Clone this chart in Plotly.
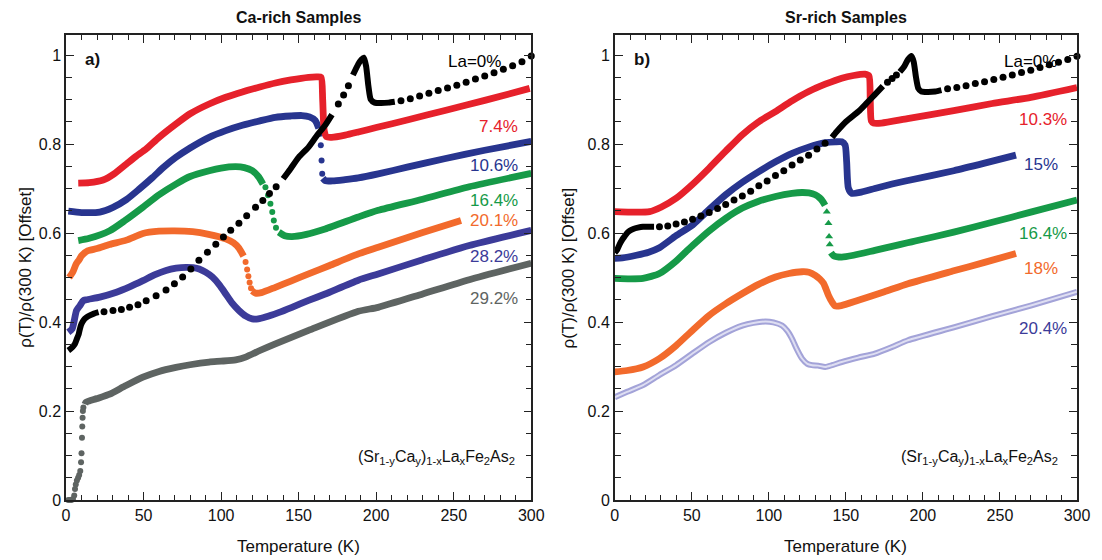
import plotly.graph_objects as go

# ---------------- Panel a: Ca-rich samples ----------------
# La = 0 %  (black)
a0_line1_T = [1.5, 3.0, 4.5, 5.8, 7.0, 8.2, 9.0, 10.0, 11.5, 13.0, 15.4, 18.0, 21.0]
a0_line1_R = [0.336, 0.340, 0.345, 0.351, 0.362, 0.373, 0.385, 0.396, 0.405, 0.410, 0.415, 0.419, 0.422]
a0_dots1_T = [24.5, 30.3, 35.7, 41.0, 46.4, 51.7, 58.1, 64.5, 69.9, 75.2, 80.5, 85.7, 91.2, 96.6,
              101.5, 106.2, 111.5, 116.5, 122.2, 126.9, 131.2, 135.5]
a0_dots1_R = [0.423, 0.426, 0.428, 0.433, 0.439, 0.448, 0.459, 0.472, 0.486, 0.501, 0.519, 0.539, 0.557, 0.575,
              0.591, 0.606, 0.622, 0.639, 0.658, 0.673, 0.689, 0.704]
a0_line2_T = [140.0, 144.7, 150.0, 156.4, 162.0, 167.1, 171.5]
a0_line2_R = [0.722, 0.744, 0.770, 0.793, 0.820, 0.842, 0.866]
a0_dots2_T = [175.6, 179.0, 182.1]
a0_dots2_R = [0.890, 0.910, 0.931]
a0_line3_T = [185.0, 188.5, 190.5, 192.0, 193.5, 195.0, 196.5, 199.0, 203.0, 208.0, 212.0]
a0_line3_R = [0.955, 0.980, 0.990, 0.994, 0.975, 0.930, 0.900, 0.893, 0.892, 0.893, 0.895]
a0_dots3_T = [216, 222, 228, 234, 240, 246, 252, 258, 264, 270, 276, 282, 288, 294, 300]
a0_dots3_R = [0.897, 0.902, 0.908, 0.914, 0.920, 0.926, 0.932, 0.939, 0.946, 0.953, 0.960, 0.968, 0.976, 0.985, 0.998]

# La = 7.4 % (red)
a1_T = [7.9, 15, 23.9, 31, 38.9, 45, 51.7, 60, 70.9, 80, 92.3, 103, 113.7, 125, 135, 145, 156.4, 162, 164.5,
        165.5, 166.5, 168, 171.3, 180, 188.5, 200, 220, 245, 270, 299]
a1_R = [0.712, 0.713, 0.719, 0.733, 0.755, 0.772, 0.789, 0.815, 0.845, 0.868, 0.890, 0.905, 0.917, 0.928, 0.937,
        0.944, 0.950, 0.951, 0.950, 0.900, 0.830, 0.816, 0.815, 0.820, 0.827, 0.837, 0.854, 0.876, 0.898, 0.925]

# La = 10.6 % (blue)
a2_T1 = [1.5, 10, 21.8, 30, 38.9, 47, 55.9, 63, 70.9, 80, 92.3, 103, 113.7, 125, 135, 145, 152.1, 157, 160.7, 163]
a2_R1 = [0.649, 0.646, 0.647, 0.657, 0.675, 0.698, 0.725, 0.748, 0.770, 0.791, 0.815, 0.830, 0.842, 0.852, 0.860,
         0.863, 0.864, 0.861, 0.853, 0.835]
a2_Td = [163.9, 164.3, 164.8, 165.2]
a2_Rd = [0.823, 0.797, 0.763, 0.733]
a2_T2 = [165.6, 167.1, 172, 180, 188.5, 201.3, 220, 244, 270, 300]
a2_R2 = [0.723, 0.718, 0.717, 0.720, 0.724, 0.733, 0.748, 0.767, 0.786, 0.806]

# La = 16.4 % (green)
a3_T1 = [7.9, 15, 28.2, 38, 49.6, 60, 70.9, 80, 92.3, 100, 109.4, 115, 120.1, 124, 127]
a3_R1 = [0.583, 0.588, 0.605, 0.628, 0.658, 0.686, 0.710, 0.727, 0.740, 0.746, 0.749, 0.747, 0.740, 0.727, 0.710]
a3_Td = [128.6, 130.3, 131.8, 133.0, 134.0, 135.4]
a3_Rd = [0.703, 0.685, 0.666, 0.647, 0.628, 0.612]
a3_T2 = [137.2, 141, 145.7, 155, 167.1, 188.5, 201.3, 230, 260, 300]
a3_R2 = [0.602, 0.594, 0.592, 0.597, 0.609, 0.636, 0.651, 0.676, 0.704, 0.734]

# La = 20.1 % (orange)
a4_T1 = [2.0, 4.5, 6.5, 8.5, 10, 14, 20, 28, 38.9, 49.6, 60, 70, 81.6, 92, 103, 108, 111.5, 114.5]
a4_R1 = [0.500, 0.513, 0.530, 0.540, 0.549, 0.560, 0.565, 0.574, 0.584, 0.599, 0.604, 0.605, 0.603, 0.597, 0.587,
         0.578, 0.566, 0.548]
a4_Td = [115.8, 116.8, 117.6, 118.4, 119.3]
a4_Rd = [0.535, 0.518, 0.503, 0.489, 0.476]
a4_T2 = [120, 122.2, 126, 135, 145, 156.4, 170, 188.5, 201.3, 230, 254.7]
a4_R2 = [0.470, 0.465, 0.466, 0.478, 0.492, 0.508, 0.527, 0.553, 0.568, 0.601, 0.628]

# La = 28.2 % (violet-blue)
a5_T = [1.5, 4, 6.8, 9.0, 11.1, 13.2, 21.8, 32.5, 41, 49.6, 57, 64.5, 71, 77.4, 82, 85.9, 90, 94.4, 99, 103, 107,
        111.5, 116, 120.1, 124, 128.6, 137, 145.7, 156, 167.1, 188.5, 201.3, 230, 260, 300]
a5_R = [0.377, 0.385, 0.426, 0.437, 0.448, 0.450, 0.456, 0.467, 0.479, 0.493, 0.506, 0.516, 0.521, 0.523, 0.522,
        0.519, 0.512, 0.501, 0.483, 0.463, 0.443, 0.426, 0.413, 0.407, 0.407, 0.411, 0.421, 0.433, 0.448, 0.463,
        0.494, 0.508, 0.540, 0.572, 0.606]

# La = 29.2 % (grey)
a6_Td = [1.5, 2.5, 3.5, 4.5, 5.3, 5.8, 6.3, 7.0, 7.8, 8.5, 9.2, 9.7, 10.0, 10.3, 10.5, 10.7, 10.9, 11.2]
a6_Rd = [0.0, 0.0, 0.0, 0.002, 0.010, 0.025, 0.035, 0.044, 0.050, 0.056, 0.065, 0.085, 0.105, 0.140, 0.165, 0.185,
         0.200, 0.208]
a6_T = [12.2, 13, 20, 28.2, 38, 49.6, 60, 70.9, 80, 92.3, 100, 109.4, 115.8, 125, 135, 156.4, 188.5, 201.3, 230,
        260, 300]
a6_R = [0.215, 0.220, 0.228, 0.238, 0.256, 0.276, 0.289, 0.298, 0.304, 0.310, 0.312, 0.315, 0.321, 0.336, 0.351,
        0.381, 0.424, 0.433, 0.463, 0.495, 0.532]

# ---------------- Panel b: Sr-rich samples ----------------
b0_line1_T = [0, 1.5, 3.2, 5.0, 6.5, 8.0, 9.7, 12, 15, 18.3, 22, 25.5]
b0_line1_R = [0.556, 0.562, 0.575, 0.586, 0.593, 0.600, 0.605, 0.609, 0.612, 0.614, 0.614, 0.614]
b0_dots1_T = [29.0, 34.4, 39.8, 45.2, 50.5, 55.9, 61.3, 66.7, 72.0, 77.4, 82.8, 88.2, 93.5, 98.9, 104.3, 109.7,
              115.1, 120.4, 125.8, 131.2, 136.5]
b0_dots1_R = [0.614, 0.616, 0.620, 0.625, 0.631, 0.638, 0.646, 0.655, 0.664, 0.674, 0.683, 0.694, 0.706, 0.717,
              0.729, 0.740, 0.753, 0.764, 0.775, 0.789, 0.802]
b0_line2_T = [141, 144.1, 150, 158.1, 163, 168.8, 174]
b0_line2_R = [0.815, 0.828, 0.850, 0.873, 0.890, 0.911, 0.930]
b0_dots2_T = [177.0, 180.0, 182.8]
b0_dots2_R = [0.939, 0.947, 0.955]
b0_line3_T = [185, 188, 190.3, 192.5, 194, 195.5, 197, 199, 203, 208, 212]
b0_line3_R = [0.962, 0.975, 0.990, 0.998, 0.985, 0.950, 0.925, 0.918, 0.917, 0.918, 0.921]
b0_dots3_T = [216, 222, 228, 234, 240, 246, 252, 258, 264, 270, 276, 282, 288, 294, 300]
b0_dots3_R = [0.924, 0.927, 0.931, 0.936, 0.940, 0.945, 0.950, 0.955, 0.961, 0.966, 0.972, 0.978, 0.984, 0.990, 0.997]

# La = 10.3 % (red)
b1_T = [0, 10, 22.6, 30, 39.8, 50, 61.3, 72, 82.8, 93, 104.3, 115, 125.8, 137, 147.3, 155, 162.4, 165, 165.8,
        166.5, 168, 173.1, 190, 220, 245, 270, 300]
b1_R = [0.648, 0.647, 0.648, 0.658, 0.678, 0.708, 0.746, 0.784, 0.821, 0.849, 0.873, 0.897, 0.918, 0.935, 0.948,
        0.954, 0.957, 0.953, 0.900, 0.852, 0.847, 0.847, 0.857, 0.875, 0.891, 0.905, 0.927]

# La = 15 % (blue)
b2_T = [0, 5, 14, 22, 29, 39.8, 50.5, 61, 72, 82.8, 93.5, 104.3, 115.1, 125.8, 136.6, 143, 147.3, 149.5, 150.5,
        151.6, 153.8, 160, 168.8, 180, 190.3, 220, 240, 260.4]
b2_R = [0.543, 0.544, 0.550, 0.557, 0.567, 0.594, 0.618, 0.652, 0.686, 0.714, 0.738, 0.760, 0.779, 0.793, 0.803,
        0.805, 0.805, 0.798, 0.760, 0.701, 0.689, 0.692, 0.700, 0.710, 0.718, 0.740, 0.757, 0.775]

# La = 16.4 % (green)
b3_T1 = [0, 10, 18.3, 29, 39.8, 46.2, 50.5, 61.3, 72, 82.8, 93, 104.3, 115, 121.5, 126, 130.1, 133, 135, 136.5]
b3_R1 = [0.498, 0.497, 0.498, 0.509, 0.537, 0.558, 0.572, 0.605, 0.633, 0.656, 0.671, 0.682, 0.689, 0.691, 0.690,
         0.686, 0.679, 0.671, 0.662]
b3_Td = [137.6, 138.7, 139.1, 139.5]
b3_Rd = [0.648, 0.622, 0.592, 0.574]
b3_T2 = [140.3, 142, 147.3, 155, 168.8, 180, 190, 195, 220, 245, 270, 300]
b3_R2 = [0.556, 0.549, 0.546, 0.550, 0.561, 0.570, 0.578, 0.582, 0.602, 0.624, 0.647, 0.674]

# La = 18 % (orange)
b4_T = [0, 8, 18.3, 29, 39.8, 50, 61.3, 72, 82.8, 93, 104.3, 113, 121.5, 126, 130.1, 133, 135.5, 137, 138.7, 141,
        143, 147, 158.1, 175, 190.3, 220, 240, 260.4]
b4_R = [0.288, 0.291, 0.299, 0.318, 0.347, 0.380, 0.415, 0.441, 0.464, 0.484, 0.501, 0.509, 0.513, 0.512, 0.505,
        0.497, 0.487, 0.475, 0.460, 0.445, 0.436, 0.437, 0.449, 0.468, 0.486, 0.515, 0.534, 0.554]

# La = 20.4 % (lavender, open circles)
b5_T = [0, 8, 18.3, 29, 39.8, 50, 61.3, 72, 82.8, 90, 97.8, 103, 108.6, 112, 115.1, 118, 121.5, 125, 128, 132,
        136.6, 141, 147.3, 158, 168.8, 180, 190.3, 220, 245, 270, 300]
b5_R = [0.231, 0.243, 0.258, 0.281, 0.303, 0.328, 0.355, 0.376, 0.392, 0.398, 0.401, 0.399, 0.392, 0.380, 0.362,
        0.340, 0.318, 0.306, 0.303, 0.302, 0.299, 0.303, 0.310, 0.320, 0.329, 0.344, 0.359, 0.388, 0.413, 0.437,
        0.468]

# ---------------- labels ----------------
a_labels = ["La=0%", "7.4%", "10.6%", "16.4%", "20.1%", "28.2%", "29.2%"]
a_label_y = [0.985, 0.840, 0.752, 0.673, 0.628, 0.547, 0.453]
b_labels = ["La=0%", "10.3%", "15%", "16.4%", "18%", "20.4%"]
b_label_y = [0.985, 0.854, 0.753, 0.599, 0.520, 0.385]

BLACK = "#000000"
RED = "#e6212b"
BLUE = "#28358f"
GREEN = "#169a48"
ORANGE = "#f26a2c"
VIOLET = "#3c3b99"
GREY = "#5e6462"
LAV = "#a3a3d8"
LAV_IN = "#dedef2"

FONT = "Liberation Sans, Arial, sans-serif"
fig = go.Figure()


def line(T, R, color, width, xa, ya):
    fig.add_trace(go.Scatter(x=T, y=R, mode="lines", xaxis=xa, yaxis=ya,
                             line=dict(color=color, width=width, shape="spline", smoothing=0.6),
                             showlegend=False, hoverinfo="skip"))


def dots(T, R, color, size, xa, ya, symbol="circle"):
    fig.add_trace(go.Scatter(x=T, y=R, mode="markers", xaxis=xa, yaxis=ya,
                             marker=dict(color=color, size=size, symbol=symbol, line=dict(width=0)),
                             showlegend=False, hoverinfo="skip", cliponaxis=False))


W = 6.8
# panel a
line(a6_T, a6_R, GREY, W, "x", "y")
dots(a6_Td, a6_Rd, GREY, 6, "x", "y")
line(a5_T, a5_R, VIOLET, W, "x", "y")
line(a4_T1, a4_R1, ORANGE, W, "x", "y")
dots(a4_Td, a4_Rd, ORANGE, 6, "x", "y")
line(a4_T2, a4_R2, ORANGE, W, "x", "y")
line(a3_T1, a3_R1, GREEN, W, "x", "y")
dots(a3_Td, a3_Rd, GREEN, 6, "x", "y")
line(a3_T2, a3_R2, GREEN, W, "x", "y")
line(a2_T1, a2_R1, BLUE, W, "x", "y")
dots(a2_Td, a2_Rd, BLUE, 6, "x", "y")
line(a2_T2, a2_R2, BLUE, W, "x", "y")
line(a1_T, a1_R, RED, W, "x", "y")
line(a0_line1_T, a0_line1_R, BLACK, 6, "x", "y")
dots(a0_dots1_T, a0_dots1_R, BLACK, 7, "x", "y")
line(a0_line2_T, a0_line2_R, BLACK, 6, "x", "y")
dots(a0_dots2_T, a0_dots2_R, BLACK, 7, "x", "y")
line(a0_line3_T, a0_line3_R, BLACK, 6, "x", "y")
dots(a0_dots3_T, a0_dots3_R, BLACK, 7, "x", "y")

# panel b
line(b5_T, b5_R, LAV, 6, "x2", "y2")
line(b5_T, b5_R, LAV_IN, 2, "x2", "y2")
line(b4_T, b4_R, ORANGE, W, "x2", "y2")
line(b3_T1, b3_R1, GREEN, W, "x2", "y2")
dots(b3_Td, b3_Rd, GREEN, 7, "x2", "y2", symbol="triangle-up")
line(b3_T2, b3_R2, GREEN, W, "x2", "y2")
line(b2_T, b2_R, BLUE, W, "x2", "y2")
line(b1_T, b1_R, RED, W, "x2", "y2")
line(b0_line1_T, b0_line1_R, BLACK, 6, "x2", "y2")
dots(b0_dots1_T, b0_dots1_R, BLACK, 7, "x2", "y2")
line(b0_line2_T, b0_line2_R, BLACK, 6, "x2", "y2")
dots(b0_dots2_T, b0_dots2_R, BLACK, 7, "x2", "y2")
line(b0_line3_T, b0_line3_R, BLACK, 6, "x2", "y2")
dots(b0_dots3_T, b0_dots3_R, BLACK, 7, "x2", "y2")

xax = dict(range=[0, 300], tick0=0, dtick=50, ticks="inside", ticklen=8, tickwidth=1.3,
           showline=True, linewidth=1.5, linecolor="#222", mirror="ticks", showgrid=False, zeroline=False,
           tickfont=dict(size=16, color="#111", family=FONT),
           minor=dict(dtick=10, ticks="inside", ticklen=5, tickwidth=1.2, tickcolor="#222"),
           tickcolor="#222")
yax = dict(range=[0, 1.045], tick0=0, dtick=0.2, ticks="inside", ticklen=8, tickwidth=1.3,
           showline=True, linewidth=1.5, linecolor="#222", mirror="ticks", showgrid=False, zeroline=False,
           tickfont=dict(size=16, color="#111", family=FONT),
           minor=dict(dtick=0.05, ticks="inside", ticklen=6, tickwidth=1.2, tickcolor="#222"),
           tickcolor="#222")

fig.update_layout(
    width=1102, height=560,
    margin=dict(l=66, r=19, t=35, b=60),
    paper_bgcolor="white", plot_bgcolor="white",
    font=dict(family=FONT, size=16, color="#111"),
    xaxis=dict(xax, domain=[0, 0.4602], anchor="y"),
    yaxis=dict(yax, domain=[0, 1], anchor="x"),
    xaxis2=dict(xax, domain=[0.5428, 1], anchor="y2"),
    yaxis2=dict(yax, domain=[0, 1], anchor="x2"),
)

ann = []
label_cols_a = [BLACK, RED, BLUE, GREEN, ORANGE, VIOLET, GREY]
for txt, yv, c in zip(a_labels, a_label_y, label_cols_a):
    xv = 282 if txt.startswith("La") else 293
    ann.append(dict(x=xv, y=yv, xref="x", yref="y", text=txt, showarrow=False, xanchor="right",
                    yanchor="middle", font=dict(size=17, color=c, family=FONT)))
label_cols_b = [BLACK, RED, BLUE, GREEN, ORANGE, VIOLET]
for txt, yv, c in zip(b_labels, b_label_y, label_cols_b):
    if txt in ("15%", "18%"):
        ann.append(dict(x=264, y=yv, xref="x2", yref="y2", text=txt, showarrow=False, xanchor="left",
                        yanchor="middle", font=dict(size=17, color=c, family=FONT)))
    else:
        xv = 288 if txt.startswith("La") else 295
        ann.append(dict(x=xv, y=yv, xref="x2", yref="y2", text=txt, showarrow=False, xanchor="right",
                        yanchor="middle", font=dict(size=17, color=c, family=FONT)))

formula = "(Sr<sub>1-y</sub>Ca<sub>y</sub>)<sub>1-x</sub>La<sub>x</sub>Fe<sub>2</sub>As<sub>2</sub>"
ann.append(dict(x=291, y=0.095, xref="x", yref="y", text=formula, showarrow=False, xanchor="right",
                yanchor="middle", font=dict(size=16, color="#111", family=FONT)))
ann.append(dict(x=289, y=0.095, xref="x2", yref="y2", text=formula, showarrow=False, xanchor="right",
                yanchor="middle", font=dict(size=16, color="#111", family=FONT)))

ann.append(dict(x=11, y=0.99, xref="x", yref="y", text="<b>a)</b>", showarrow=False, xanchor="left",
                yanchor="middle", font=dict(size=17, color="#111", family=FONT)))
ann.append(dict(x=11, y=0.99, xref="x2", yref="y2", text="<b>b)</b>", showarrow=False, xanchor="left",
                yanchor="middle", font=dict(size=17, color="#111", family=FONT)))

ann.append(dict(x=0.2301, y=1.037, xref="paper", yref="paper", text="<b>Ca-rich Samples</b>", showarrow=False,
                xanchor="center", yanchor="middle", font=dict(size=16, color="#111", family=FONT)))
ann.append(dict(x=0.7714, y=1.037, xref="paper", yref="paper", text="<b>Sr-rich Samples</b>", showarrow=False,
                xanchor="center", yanchor="middle", font=dict(size=16, color="#111", family=FONT)))

ann.append(dict(x=0.2301, y=-0.099, xref="paper", yref="paper", text="Temperature (K)", showarrow=False,
                xanchor="center", yanchor="middle", font=dict(size=17, color="#111", family=FONT)))
ann.append(dict(x=0.7714, y=-0.099, xref="paper", yref="paper", text="Temperature (K)", showarrow=False,
                xanchor="center", yanchor="middle", font=dict(size=17, color="#111", family=FONT)))

ytitle = "ρ(T)/ρ(300 K) [Offset]"
ann.append(dict(x=-0.0403, y=0.5, xref="paper", yref="paper", text=ytitle, showarrow=False, textangle=-90,
                xanchor="center", yanchor="middle", font=dict(size=17, color="#111", family=FONT)))
ann.append(dict(x=0.4975, y=0.5, xref="paper", yref="paper", text=ytitle, showarrow=False, textangle=-90,
                xanchor="center", yanchor="middle", font=dict(size=17, color="#111", family=FONT)))

fig.update_layout(annotations=ann)
fig.write_html("out.html", config={"displayModeBar": False},
               post_script="document.body.style.margin='0px';document.body.style.overflow='hidden';")
